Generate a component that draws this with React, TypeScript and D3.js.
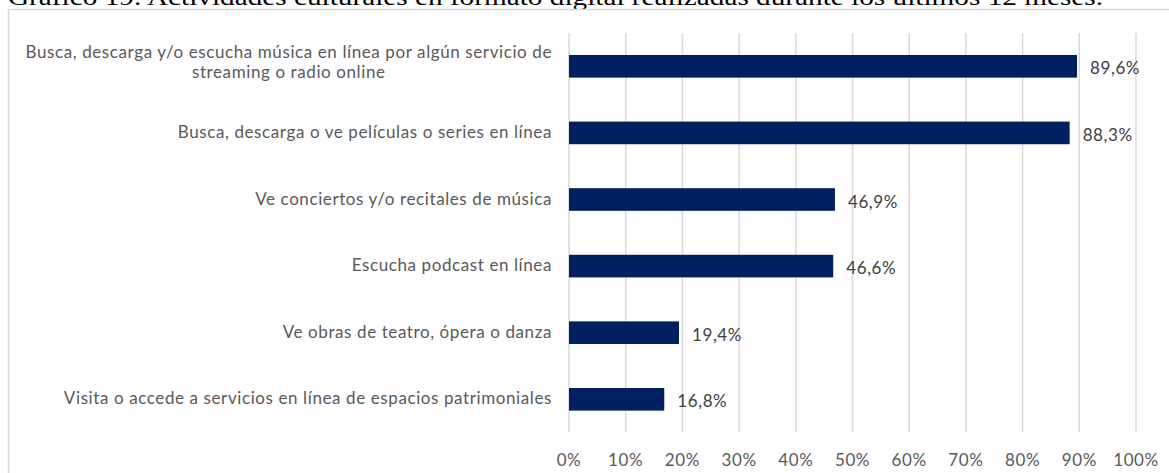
import * as d3 from "d3";
import { useEffect, useRef } from "react";

const title =
  "Gráfico 19. Actividades culturales en formato digital realizadas durante los últimos 12 meses.";

const categories = [
  "Busca, descarga y/o escucha música en línea por algún servicio de\nstreaming o radio online",
  "Busca, descarga o ve películas o series en línea",
  "Ve conciertos y/o recitales de música",
  "Escucha podcast en línea",
  "Ve obras de teatro, ópera o danza",
  "Visita o accede a servicios en línea de espacios patrimoniales",
];

const values = [0.896, 0.883, 0.469, 0.466, 0.194, 0.168];

const tickValues = [0, 0.1, 0.2, 0.3, 0.4, 0.5, 0.6, 0.7, 0.8, 0.9, 1];

const width = 1169;
const height = 473;

const App = () => {
  const svgRef = useRef<SVGSVGElement>(null);

  useEffect(() => {
    const margin = { top: 33, right: 33, bottom: 40.4, left: 569 };
    const svg = d3.select(svgRef.current);
    svg.selectAll("*").remove();

    svg.attr("width", width).attr("height", height);

    const font = "Lato, 'Open Sans', sans-serif";
    const fontSize = 17;
    const spacing = 0.6;

    // caption above the frame, cut by the page top as in the source
    svg
      .append("text")
      .attr("x", 8)
      .attr("y", 4.5)
      .attr("font-family", "'Liberation Serif', 'Times New Roman', serif")
      .attr("font-size", 24)
      .attr("fill", "#000")
      .attr("textLength", 1095)
      .attr("lengthAdjust", "spacingAndGlyphs")
      .text(title);

    // chart frame
    svg
      .append("rect")
      .attr("x", 8.5)
      .attr("y", 9.5)
      .attr("width", 1300)
      .attr("height", 600)
      .attr("fill", "#fff")
      .attr("stroke", "#d9d9d9")
      .attr("stroke-width", 1.5);

    const xScale = d3
      .scaleLinear()
      .domain([0, 1])
      .range([margin.left, width - margin.right]);

    const yScale = d3
      .scaleBand()
      .domain(categories)
      .range([margin.top, height - margin.bottom])
      .paddingInner(0.66)
      .paddingOuter(0.33);

    // gridlines
    svg
      .selectAll(".grid")
      .data(tickValues)
      .enter()
      .append("line")
      .attr("class", "grid")
      .attr("x1", (d) => xScale(d))
      .attr("x2", (d) => xScale(d))
      .attr("y1", margin.top)
      .attr("y2", height - margin.bottom)
      .attr("stroke", "#d9d9d9")
      .attr("stroke-width", 1.5);

    // bars
    svg
      .selectAll(".bar")
      .data(values)
      .enter()
      .append("rect")
      .attr("class", "bar")
      .attr("x", xScale(0))
      .attr("y", (d, i) => yScale(categories[i])!)
      .attr("width", (d) => xScale(d) - xScale(0))
      .attr("height", yScale.bandwidth())
      .attr("fill", "#002060");

    const fmt = d3.format(".1%");

    // value labels
    svg
      .selectAll(".value")
      .data(values)
      .enter()
      .append("text")
      .attr("class", "value")
      .attr("x", (d) => xScale(d) + 13)
      .attr("y", (d, i) => yScale(categories[i])! + yScale.bandwidth() / 2 + 8)
      .attr("fill", "#404040")
      .attr("font-family", font)
      .attr("font-size", fontSize)
      .attr("letter-spacing", spacing)
      .text((d) => fmt(d).replace(".", ","));

    // x tick labels
    svg
      .selectAll(".xLabel")
      .data(tickValues)
      .enter()
      .append("text")
      .attr("class", "xLabel")
      .attr("x", (d) => xScale(d))
      .attr("y", 465.5)
      .attr("text-anchor", "middle")
      .attr("fill", "#595959")
      .attr("font-family", font)
      .attr("font-size", fontSize)
      .attr("letter-spacing", spacing)
      .text((d) => d3.format(".0%")(d));

    // category labels, wrapped lines centred on the widest one
    const labelRight = 552;
    categories.forEach((c) => {
      const lines = c.split("\n");
      const cy = yScale(c)! + yScale.bandwidth() / 2;
      const g = svg
        .append("text")
        .attr("fill", "#595959")
        .attr("font-family", font)
        .attr("font-size", fontSize)
        .attr("letter-spacing", spacing);
      if (lines.length === 1) {
        g.attr("x", labelRight)
          .attr("y", cy + 5)
          .attr("text-anchor", "end")
          .text(c);
        return;
      }
      const spans = lines.map((l, i) =>
        g
          .append("tspan")
          .attr("y", cy - 8.5 + i * 20.5)
          .text(l)
      );
      const maxW = d3.max(spans, (s) => (s.node() as SVGTSpanElement).getComputedTextLength()) || 0;
      g.attr("text-anchor", "middle");
      spans.forEach((s) => s.attr("x", labelRight - maxW / 2));
    });
  }, []);

  return (
    <div style={{ position: "absolute", left: 0, top: 0, width, height, overflow: "hidden", background: "#fff" }}>
      <svg ref={svgRef} style={{ display: "block" }}></svg>
    </div>
  );
};

export default App;
